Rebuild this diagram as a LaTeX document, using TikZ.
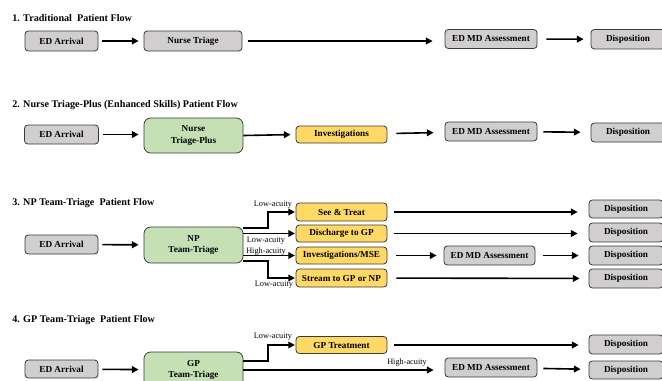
\documentclass[tikz,border=0pt]{standalone}
\usepackage{fontspec}
\setmainfont{Liberation Serif}
\usetikzlibrary{arrows.meta,calc}
\definecolor{boxgray}{HTML}{D0CECE}
\definecolor{boxyellow}{HTML}{FFD966}
\definecolor{boxgreen}{HTML}{C5E0B4}
\definecolor{edge}{HTML}{3A3A3A}
\begin{document}
\begin{tikzpicture}[x=0.75pt,y=-0.75pt,
 base/.style={draw=edge, line width=0.6pt, rounded corners=2.5pt, inner sep=0pt, align=center, font=\fontsize{6.9}{8.6}\selectfont\bfseries},
 gbox/.style={base, fill=boxgray},
 ybox/.style={base, fill=boxyellow},
 nbox/.style={base, fill=boxgreen, rounded corners=5pt},
 sz/.style 2 args={minimum width=#1*0.75pt, minimum height=#2*0.75pt},
 arr/.style={line width=1.2pt, -{Triangle[length=5pt,width=5pt]}},
 brn/.style={line width=1.4pt, -{Triangle[length=5pt,width=5pt]}},
 lbl/.style={font=\fontsize{6.2}{7}\selectfont, inner sep=0pt},
 ttl/.style={font=\fontsize{7.6}{9}\selectfont\bfseries, anchor=west, inner sep=0pt}]
\clip (0,0) rectangle (662,380);
\fill[white] (0,0) rectangle (662,380);

% ---------- Section 1 ----------
\node[ttl] (T1) at (12,18) {1. Traditional\ \ Patient Flow};
\node[gbox, sz={73}{20}] (a1) at (61.5,41) {ED Arrival};
\node[gbox, sz={98}{20}] (t1) at (193,41) {Nurse Triage};
\node[gbox, sz={92}{19}] (m1) at (491,39) {ED MD Assessment};
\node[gbox, sz={74}{19.5}] (d1) at (628,39.2) {Disposition};
\draw[arr, shorten <=3pt, shorten >=3.75pt] (a1) -- (t1);
\draw[arr, shorten <=4.5pt, shorten >=9pt] (t1.east) -- (t1.east -| m1.west);
\draw[arr, shorten <=6.75pt, shorten >=5.25pt] (m1) -- (d1);

% ---------- Section 2 ----------
\node[ttl] (T2) at (12,105) {2. Nurse Triage-Plus (Enhanced Skills) Patient Flow};
\node[gbox, sz={74}{19}] (a2) at (61.5,134.5) {ED Arrival};
\node[nbox, sz={99}{35}] (t2) at (193.5,135.5) {Nurse\\Triage-Plus};
\node[ybox, sz={91}{17}] (i2) at (341.5,134.5) {Investigations};
\node[gbox, sz={92}{19}] (m2) at (491,131.5) {ED MD Assessment};
\node[gbox, sz={74}{19}] (d2) at (628,132.5) {Disposition};
\draw[arr, shorten <=3pt, shorten >=3.75pt] (a2.east) -- (a2.east -| t2.west);
\draw[arr, shorten >=3.75pt] (t2.east) -- (i2.west);
\draw[arr, shorten <=6.75pt, shorten >=8.25pt] (i2) -- (m2);
\draw[arr, shorten <=4.5pt, shorten >=7.5pt] (m2) -- (d2);

% ---------- Section 3 ----------
\node[ttl] (T3) at (12,203) {3. NP Team-Triage\ \ Patient Flow};
\node[gbox, sz={73}{19}] (a3) at (61.5,244.5) {ED Arrival};
\node[nbox, sz={99}{36}] (t3) at (193.5,245) {NP\\Team-Triage};
\node[ybox, sz={91}{18}] (s3) at (341.5,212) {See \& Treat};
\node[ybox, sz={91}{17}] (g3) at (341.5,233.5) {Discharge to GP};
\node[ybox, sz={91}{17}] (v3) at (341.5,255.5) {Investigations/MSE};
\node[ybox, sz={91}{18}] (r3) at (341.5,278) {Stream to GP or NP};
\node[gbox, sz={91}{19}] (m3) at (489.5,255.5) {ED MD Assessment};
\node[gbox, sz={74}{18}] (d3a) at (626,209) {Disposition};
\node[gbox, sz={74}{19}] (d3b) at (626,232.5) {Disposition};
\node[gbox, sz={74}{19}] (d3c) at (626,255.5) {Disposition};
\node[gbox, sz={74}{19}] (d3d) at (626,278.5) {Disposition};
\draw[arr, shorten <=3pt, shorten >=3.75pt] (a3) -- (t3);
\draw[brn, shorten >=0.5pt] ($(t3.east)+(0,-17)$) -- ++(25,0) |- (s3.west);
\draw[brn, shorten >=0.5pt] (t3.east |- g3) -- (g3.west);
\draw[brn, shorten >=0.5pt] (t3.east |- v3) -- (v3.west);
\draw[brn, shorten >=0.5pt] ($(t3.east)+(0,16)$) -- ++(25,0) |- (r3.west);
\node[lbl] (l3a) at (273,205) {Low-acuity};
\node[lbl] (l3b) at (266,241) {Low-acuity};
\node[lbl] (l3c) at (266,251.5) {High-acuity};
\node[lbl] (l3d) at (274,285) {Low-acuity};
\draw[arr, shorten <=5.25pt, shorten >=8.25pt] (s3.east) -- (s3.east -| d3a.west);
\draw[arr, shorten <=5.25pt, shorten >=8.25pt] (g3.east) -- (g3.east -| d3b.west);
\draw[arr, shorten <=6.75pt, shorten >=5.25pt] (v3) -- (m3);
\draw[arr, shorten <=6pt, shorten >=7.5pt] (m3) -- (d3c);
\draw[arr, shorten <=6.75pt, shorten >=6.75pt] (r3) -- (d3d);

% ---------- Section 4 ----------
\node[ttl] (T4) at (12,320) {4. GP Team-Triage\ \ Patient Flow};
\node[gbox, sz={73}{18}] (a4) at (61.5,369) {ED Arrival};
\node[nbox, sz={99}{36}] (t4) at (193.5,370) {GP\\Team-Triage};
\node[ybox, sz={91}{17}] (p4) at (341.5,345) {GP Treatment};
\node[gbox, sz={74}{19}] (d4a) at (626,344.5) {Disposition};
\node[gbox, sz={92}{19}] (m4) at (491,367.5) {ED MD Assessment};
\node[gbox, sz={74}{18}] (d4b) at (626,370) {Disposition};
\draw[arr, shorten <=3pt, shorten >=3.75pt] (a4) -- (t4);
\draw[brn, shorten >=0.5pt] ($(t4.east)+(0,-9)$) -- ++(25,0) |- (p4.west);
\draw[arr, shorten >=8.25pt] (t4.east) -- (t4.east -| m4.west);
\node[lbl] (l4a) at (273,337) {Low-acuity};
\node[lbl] (l4b) at (407,363) {High-acuity};
\draw[arr, shorten <=5.25pt, shorten >=7.5pt] (p4.east) -- (p4.east -| d4a.west);
\draw[arr, shorten <=4.5pt, shorten >=6pt] (m4) -- (d4b);
\end{tikzpicture}
\end{document}
